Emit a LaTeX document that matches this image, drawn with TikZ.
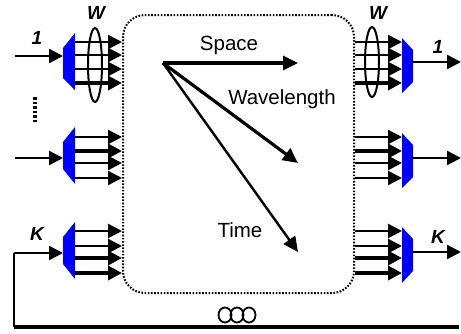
\documentclass[tikz,border=0pt]{standalone}
\usepackage{fontspec}
\setmainfont{Liberation Sans}
\usepackage{xcolor}
\usetikzlibrary{arrows.meta, positioning}
\definecolor{muxblue}{HTML}{0000FF}
\tikzset{
  swbox/.style={draw=black,line width=2pt,dash pattern=on 1.6pt off 1.6pt,rounded corners=22pt,minimum width=231pt,minimum height=278pt,inner sep=0pt},
  muxfill/.style={fill=muxblue,draw=none},
  chan/.style={-{Triangle[length=14pt,width=14pt]},line width=2.4pt,black},
  chanthick/.style={chan,line width=3.4pt},
  dimarrow/.style={-{Triangle[length=15pt,width=14pt]},line width=3.2pt,black},
  dimthin/.style={dimarrow,line width=2.4pt},
  bundle/.style={draw=black,line width=2pt},
  lbl/.style={font=\fontsize{20.5}{24}\selectfont,inner sep=0pt},
  portlbl/.style={font=\fontsize{19}{22}\selectfont\bfseries\itshape,inner sep=0pt},
}

\begin{document}
\begin{tikzpicture}[x=1pt,y=-1pt]
  \useasboundingbox (0,0) rectangle (461,333);
  % switch fabric
  \node[swbox] (sw) at (238.5,154) {};
  % demultiplexers (left) and multiplexers (right)
  \fill[muxfill] (63,48) -- (75,33) -- (75,90) -- (63,78) -- cycle;
  \fill[muxfill] (63,142) -- (75,127) -- (75,184) -- (63,169) -- cycle;
  \fill[muxfill] (63,237) -- (75,222) -- (75,279) -- (63,264) -- cycle;
  \fill[muxfill] (402,38) -- (413,50) -- (413,82) -- (402,93) -- cycle;
  \fill[muxfill] (402,133) -- (413,145) -- (413,177) -- (402,188) -- cycle;
  \fill[muxfill] (402,227) -- (413,239) -- (413,271) -- (402,283) -- cycle;
  % ports
  \coordinate (inA) at (15,56);   \coordinate (dmA) at (63,56);
  \coordinate (inB) at (15,158);  \coordinate (dmB) at (63,158);
  \coordinate (inK) at (14,253);  \coordinate (dmK) at (63,253);
  \coordinate (muA) at (413,62);  \coordinate (outA) at (461,62);
  \coordinate (muB) at (413,158); \coordinate (outB) at (461,158);
  \coordinate (muK) at (413,252); \coordinate (outK) at (461,252);
  \draw[chan] (inA) -- (dmA);
  \draw[chan] (inB) -- (dmB);
  \draw[chan] (inK) -- (dmK);
  \draw[chan] (muA) -- (outA);
  \draw[chan] (muB) -- (outB);
  \draw[chan] (muK) -- (outK);
  % wavelength channels into the fabric
  \draw[chan] (75,42) -- (75,42 -| sw.west);
  \draw[chan] (75,55) -- (75,55 -| sw.west);
  \draw[chan] (75,69) -- (75,69 -| sw.west);
  \draw[chanthick] (75,83) -- (75,83 -| sw.west);
  \draw[chan] (75,137) -- (75,137 -| sw.west);
  \draw[chanthick] (75,151) -- (75,151 -| sw.west);
  \draw[chan] (75,163) -- (75,163 -| sw.west);
  \draw[chan] (75,178) -- (75,178 -| sw.west);
  \draw[chan] (75,231) -- (75,231 -| sw.west);
  \draw[chan] (75,246) -- (75,246 -| sw.west);
  \draw[chanthick] (75,258) -- (75,258 -| sw.west);
  \draw[chanthick] (75,273) -- (75,273 -| sw.west);
  % wavelength channels out of the fabric
  \draw[chan] (sw.east |- 0,42) -- (402,42);
  \draw[chan] (sw.east |- 0,55) -- (402,55);
  \draw[chan] (sw.east |- 0,69) -- (402,69);
  \draw[chanthick] (sw.east |- 0,83) -- (402,83);
  \draw[chan] (sw.east |- 0,137) -- (402,137);
  \draw[chanthick] (sw.east |- 0,151) -- (402,151);
  \draw[chan] (sw.east |- 0,163) -- (402,163);
  \draw[chan] (sw.east |- 0,178) -- (402,178);
  \draw[chan] (sw.east |- 0,231) -- (402,231);
  \draw[chan] (sw.east |- 0,246) -- (402,246);
  \draw[chanthick] (sw.east |- 0,258) -- (402,258);
  \draw[chanthick] (sw.east |- 0,273) -- (402,273);
  % W bundles
  \draw[bundle] (95,65) ellipse [x radius=7pt, y radius=37pt];
  \draw[bundle] (372,62) ellipse [x radius=7pt, y radius=35pt];
  \node[portlbl] (wIn) at (96,13) {W};
  \node[portlbl] (wOut) at (378,13) {W};
  \node[portlbl] (pA) at (37,38) {1};
  \node[portlbl] (pAo) at (438,47) {1};
  \node[portlbl] (pK) at (37,234) {K};
  \node[portlbl] (pKo) at (438,237) {K};
  % more ports
  \coordinate (dotsT) at (35,97);
  \coordinate (dotsB) at (35,123);
  \draw[line width=4pt,dash pattern=on 2.5pt off 2pt] (dotsT) -- (dotsB);
  % switching dimensions
  \coordinate (org) at (163,63);
  \coordinate (spT) at (298,63);
  \coordinate (wlT) at (298,163);
  \coordinate (tmT) at (298,252);
  \draw[dimarrow] (org) -- (spT);
  \draw[dimarrow] (org) -- (wlT);
  \draw[dimthin] (org) -- (tmT);
  \node[lbl] (space) at (229,45) {Space};
  \node[lbl] (wave) at (282,99) {Wavelength};
  \node[lbl] (time) at (240,230) {Time};
  % recirculation fibre with delay coil
  \coordinate (fbL) at (14,327);
  \coordinate (fbR) at (459,327);
  \draw[line width=2.4pt] (inK) -- (fbL);
  \draw[line width=4pt] (fbL) -- (fbR);
  \draw[line width=1.8pt] (225,315) ellipse [x radius=6.5pt, y radius=7.5pt];
  \draw[line width=1.8pt] (237,315) ellipse [x radius=6.5pt, y radius=7.5pt];
  \draw[line width=1.8pt] (249,315) ellipse [x radius=6.5pt, y radius=7.5pt];
\end{tikzpicture}
\end{document}
